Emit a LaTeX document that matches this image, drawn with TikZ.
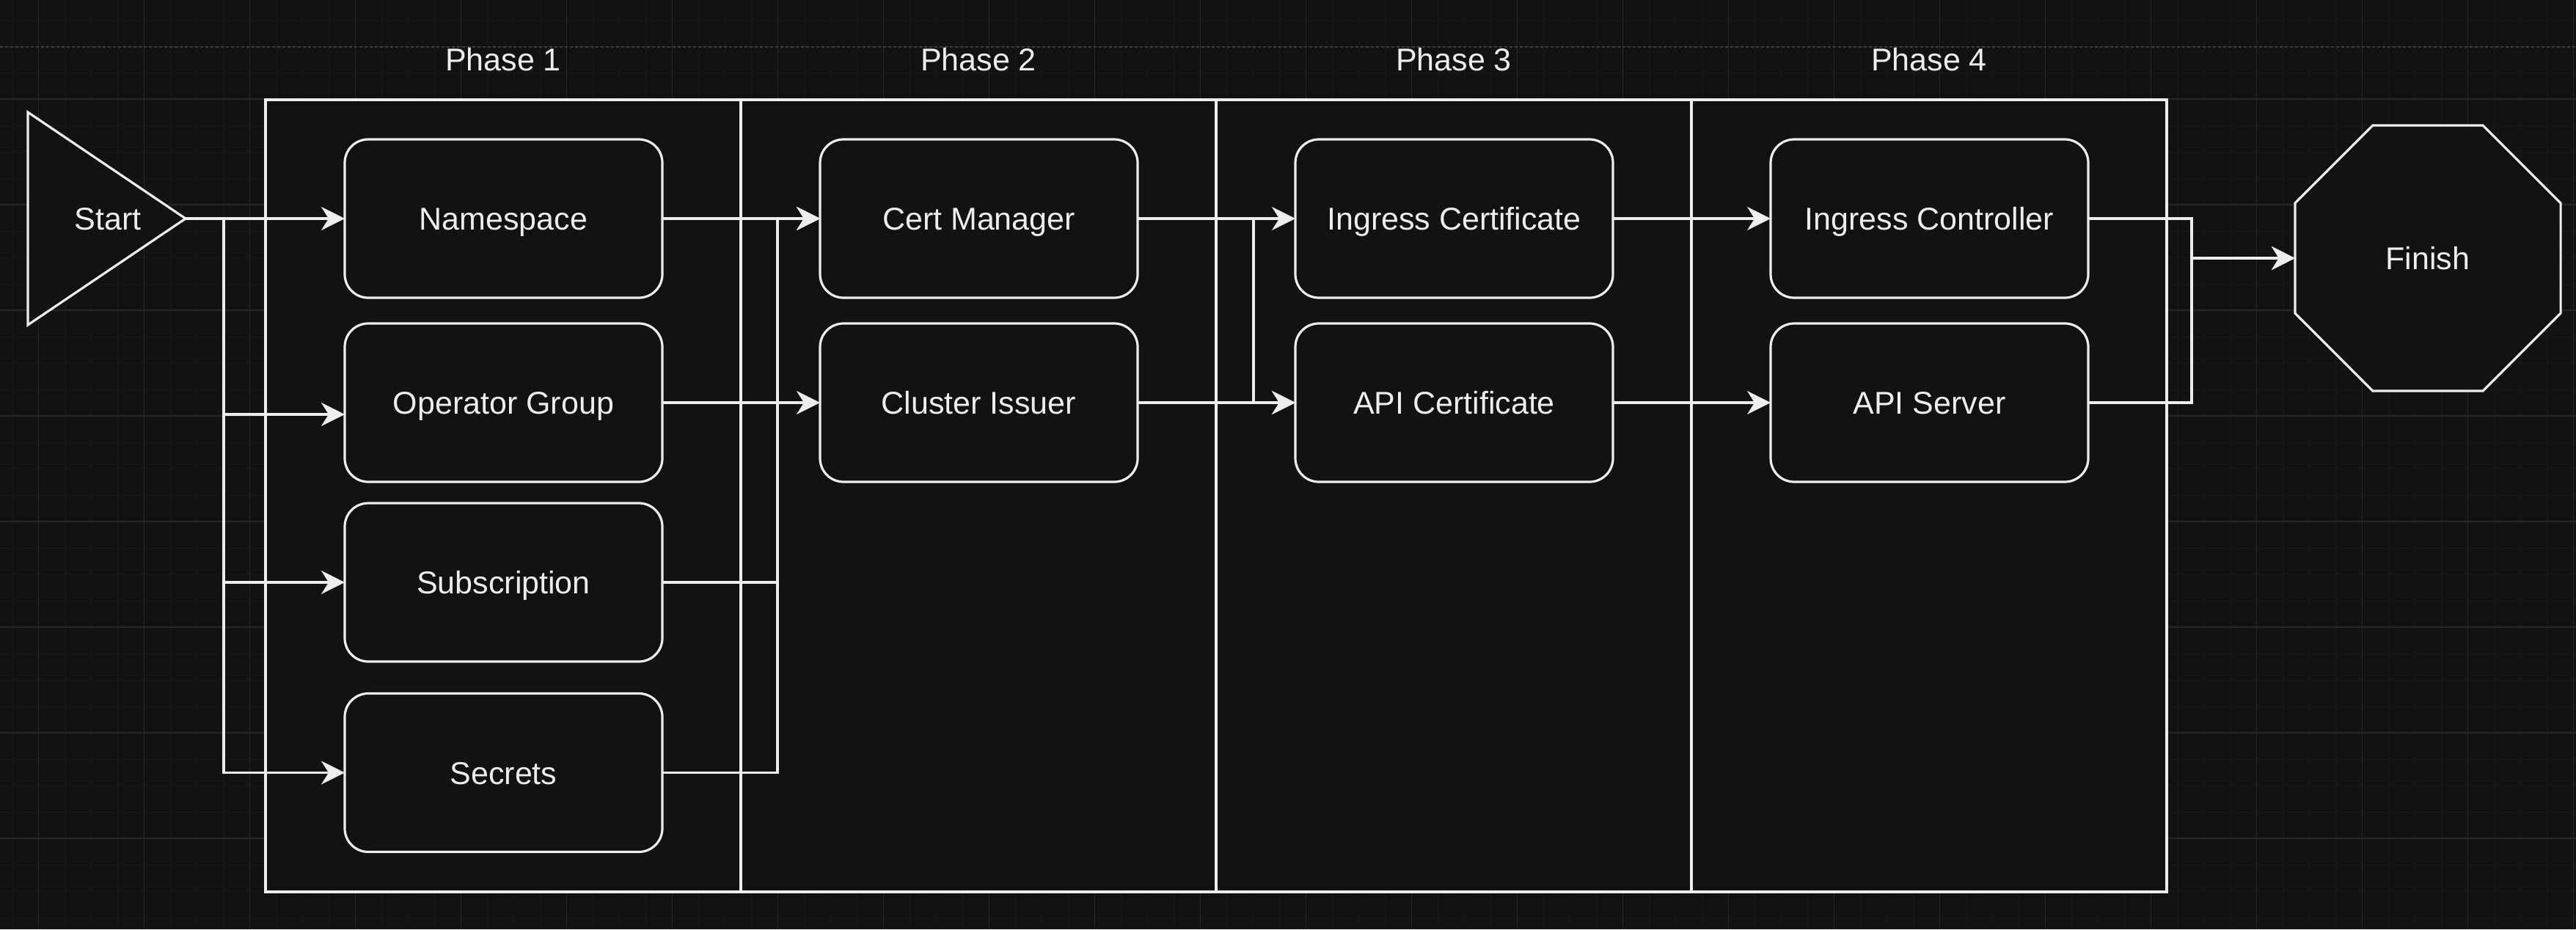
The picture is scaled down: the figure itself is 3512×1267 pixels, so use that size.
\documentclass[tikz,border=0pt]{standalone}
\usepackage{fontspec}
\setmainfont{Liberation Sans}
\usetikzlibrary{arrows.meta,shapes.geometric}
\definecolor{bg}{HTML}{121212}
\definecolor{fg}{HTML}{EDEDED}
\definecolor{minorgrid}{HTML}{181818}
\definecolor{majorgrid}{HTML}{272727}
\definecolor{pageline}{HTML}{3C3C3C}
\begin{document}
\begin{tikzpicture}[x=1pt,y=-1pt,
  every node/.style={font=\fontsize{43}{52}\selectfont, text=fg, text height=31pt, text depth=0pt},
  line/.style={draw=fg, line width=3.2pt},
  stepbox/.style={line, fill=bg, rounded corners=32pt, minimum width=433pt, minimum height=216pt, inner sep=0pt, outer sep=0pt},
  phasecol/.style={line, fill=bg, minimum width=648pt, minimum height=1080pt, inner sep=0pt, outer sep=0pt},
  conn/.style={draw=fg, line width=3.2pt},
  arr/.style={conn, -{Stealth[length=32pt,width=32pt,inset=10pt]}},
]
% background and grid
\fill[bg] (0,0) rectangle (3512,1267);
\useasboundingbox (0,0) rectangle (3512,1267);
\foreach \i in {0,...,97} \draw[minorgrid, line width=1.2pt] ({16.4+36*\i},0) -- ({16.4+36*\i},1267);
\foreach \j in {0,...,35} \draw[minorgrid, line width=1.2pt] (0,{27.3+36*\j}) -- (3512,{27.3+36*\j});
\foreach \i in {0,...,24} \draw[majorgrid, line width=1.8pt] ({52.4+144*\i},0) -- ({52.4+144*\i},1267);
\foreach \j in {1,...,8} \draw[majorgrid, line width=1.8pt] (0,{-8.7+144*\j}) -- (3512,{-8.7+144*\j});
\draw[pageline, line width=1.5pt, dash pattern=on 4pt off 3pt] (0,64) -- (3512,64);

% phase columns
\node[phasecol] (col1) at (686,676) {};
\node[phasecol] (col2) at (1334,676) {};
\node[phasecol] (col3) at (1982,676) {};
\node[phasecol] (col4) at (2630,676) {};
\node (ph1) at (686,81) {Phase 1};
\node (ph2) at (1334,81) {Phase 2};
\node (ph3) at (1982,81) {Phase 3};
\node (ph4) at (2630,81) {Phase 4};

% start
\draw[line, fill=bg] (38,153) -- (253,298) -- (38,443) -- cycle;
\node (start) at (147,298) {Start};
\coordinate (startTip) at (253,298);

% phase 1
\node[stepbox] (ns)  at (686.5,298) {Namespace};
\node[stepbox] (og)  at (686.5,549) {Operator Group};
\node[stepbox] (sub) at (686.5,794) {Subscription};
\node[stepbox] (sec) at (686.5,1053.5) {Secrets};
% phase 2
\node[stepbox] (cm) at (1334.5,298) {Cert Manager};
\node[stepbox] (ci) at (1334.5,549) {Cluster Issuer};
% phase 3
\node[stepbox] (ic) at (1982.5,298) {Ingress Certificate};
\node[stepbox] (ac) at (1982.5,549) {API Certificate};
% phase 4
\node[stepbox] (ictl) at (2630.5,298) {Ingress Controller};
\node[stepbox] (as)   at (2630.5,549) {API Server};
% finish
\node[line, fill=bg, regular polygon, regular polygon sides=8, minimum size=392pt, inner sep=0pt, outer sep=0pt] (fin) at (3310,352) {Finish};

% connectors: start
\draw[arr] (startTip) -- (ns.west);
\draw[arr] (startTip) -- ++(52,0) |- ([yshift=-16pt]og.west);
\draw[arr] (startTip) -- ++(52,0) |- (sub.west);
\draw[arr] (startTip) -- ++(52,0) |- (sec.west);
% phase 1 -> 2
\draw[arr] (ns.east) -- (cm.west);
\draw[arr] (og.east) -- (ci.west);
\draw[arr] (sub.east) -- ++(157,0) |- (cm.west);
\draw[arr] (sec.east) -- ++(157,0) |- (cm.west);
% phase 2 -> 3
\draw[arr] (cm.east) -- (ic.west);
\draw[arr] (ci.east) -- (ac.west);
\draw[arr] (cm.east) -- ++(158,0) |- (ac.west);
% phase 3 -> 4
\draw[arr] (ic.east) -- (ictl.west);
\draw[arr] (ac.east) -- (as.west);
% phase 4 -> finish
\draw[arr] (ictl.east) -- ++(141,0) |- (fin.west);
\draw[arr] (as.east) -- ++(141,0) |- (fin.west);
\end{tikzpicture}
\end{document}
